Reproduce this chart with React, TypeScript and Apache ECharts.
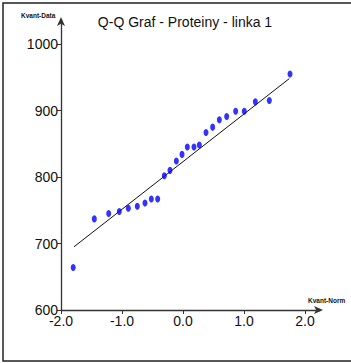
import React, { useEffect, useRef } from "react";
import * as echarts from "echarts";

const TITLE = "Q-Q Graf - Proteiny - linka 1";
const X_NAME = "Kvant-Norm";
const Y_NAME = "Kvant-Data";

const xTicks = [-2, -1, 0, 1, 2];
const yTicks = [600, 700, 800, 900, 1000];

// theoretical normal quantiles
const normQuantiles = [
  -1.8, -1.454, -1.218, -1.044, -0.896, -0.749, -0.623, -0.519, -0.415, -0.306,
  -0.213, -0.109, -0.016, 0.071, 0.18, 0.268, 0.377, 0.486, 0.596, 0.716,
  0.863, 1.005, 1.186, 1.415, 1.754,
];
// sample quantiles (sorted data)
const dataQuantiles = [
  664, 737, 745, 748, 753, 756, 761, 767, 767, 802,
  810, 824, 834, 845, 845, 848, 867, 875, 886, 891,
  899, 899, 913, 915, 955,
];

// reference line end points
const lineX = [-1.787, 1.743];
const lineY = [695, 948];

const FONT = "'Liberation Sans Narrow', 'Liberation Sans', Arial, sans-serif";

export default function App() {
  const ref = useRef<HTMLDivElement>(null);
  useEffect(() => {
    document.body.style.margin = "0";
    const chart = echarts.init(ref.current!, null, { renderer: "svg" });
    const axisColor = "#333";
    chart.setOption({
      animation: false,
      backgroundColor: "#fff",
      title: {
        text: TITLE,
        left: 180,
        textAlign: "center",
        top: 10,
        textStyle: { fontFamily: FONT, fontSize: 14, fontWeight: "normal", color: "#111" },
      },
      grid: { left: 61, top: 20, width: 259, height: 290 },
      xAxis: {
        type: "value",
        min: -2,
        max: 2.246,
        splitLine: { show: false },
        axisLine: { show: true, onZero: false, lineStyle: { color: axisColor, width: 1.3 }, symbol: ["none", "arrow"], symbolSize: [6, 9], symbolOffset: [0, 3] },
        axisTick: { show: true, customValues: xTicks, length: 4, inside: false, lineStyle: { color: axisColor } },
        axisLabel: {
          customValues: xTicks,
          formatter: (v: number) => v.toFixed(1),
          fontFamily: FONT,
          fontSize: 14,
          color: "#111",
          margin: 4,
        },
      },
      yAxis: {
        type: "value",
        min: 600,
        max: 1036.1,
        splitLine: { show: false },
        axisLine: { show: true, onZero: false, lineStyle: { color: axisColor, width: 1.3 }, symbol: ["none", "arrow"], symbolSize: [6, 9], symbolOffset: [0, 3] },
        axisTick: { show: true, customValues: yTicks, length: 4, inside: false, lineStyle: { color: axisColor } },
        axisLabel: {
          customValues: yTicks,
          formatter: (v: number) => String(v),
          fontFamily: FONT,
          fontSize: 14,
          color: "#111",
          margin: 3,
        },
      },
      graphic: [
        {
          type: "rect",
          shape: { x: 3, y: 3, width: 400, height: 358 },
          style: { fill: "none", stroke: "#222", lineWidth: 1.5 },
          silent: true,
        },
        {
          type: "text",
          x: 21,
          y: 12,
          style: { text: Y_NAME, fontFamily: FONT, fontSize: 6.5, fontWeight: "bold", fill: "#111" },
        },
        {
          type: "text",
          x: 308,
          y: 297,
          style: { text: X_NAME, fontFamily: FONT, fontSize: 6.5, fontWeight: "bold", fill: "#111" },
        },
      ],
      series: [
        {
          type: "line",
          data: lineX.map((x, i) => [x, lineY[i]]),
          symbol: "none",
          lineStyle: { color: "#111", width: 1 },
          z: 2,
        },
        {
          type: "scatter",
          data: normQuantiles.map((x, i) => [x, dataQuantiles[i]]),
          symbol: "circle",
          symbolSize: [5, 7],
          itemStyle: { color: "#0000ff" },
          z: 3,
        },
      ],
    });
    return () => chart.dispose();
  }, []);
  return <div ref={ref} style={{ position: "fixed", left: 0, top: 0, width: 351, height: 363 }} />;
}
